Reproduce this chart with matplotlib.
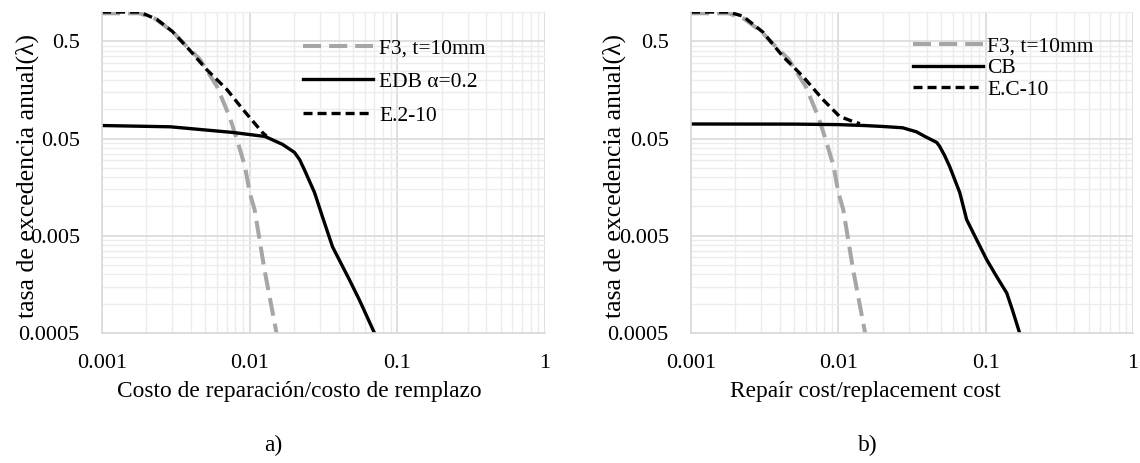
import matplotlib
matplotlib.use("Agg")
import matplotlib.pyplot as plt
import numpy as np

plt.rcParams['font.family'] = ['Liberation Serif', 'DejaVu Serif']
plt.rcParams['lines.scale_dashes'] = False

# Shared fragility curve (plate F3, t = 10 mm)
f3_x = [0.001, 0.0018, 0.0023, 0.003, 0.0036, 0.0046, 0.006, 0.0073, 0.0082,
        0.0093, 0.010, 0.0108, 0.0126, 0.0152, 0.017]
f3_y = [0.97, 0.97, 0.85, 0.63, 0.47, 0.326, 0.172, 0.084, 0.049,
        0.0257, 0.0139, 0.0093, 0.00223, 0.0005, 0.0003]

# Panel a: EDB alpha = 0.2 and combined E.2-10
edb_x = [0.001, 0.0029, 0.0077, 0.0127, 0.0167, 0.0201, 0.0218, 0.0235, 0.0275,
         0.0311, 0.0364, 0.0474, 0.0554, 0.070, 0.075]
edb_y = [0.068, 0.066, 0.0577, 0.0525, 0.0435, 0.036, 0.0303, 0.0238, 0.0139,
         0.00785, 0.00385, 0.00176, 0.00109, 0.0005, 0.0004]
e210_x = [0.001, 0.0018, 0.00235, 0.003, 0.0039, 0.0051, 0.0070, 0.0090, 0.0122, 0.013]
e210_y = [1.0, 1.0, 0.84, 0.63, 0.41, 0.257, 0.16, 0.0995, 0.0577, 0.053]

# Panel b: CB and combined E.C-10
cb_x = [0.001, 0.005, 0.01, 0.015, 0.02, 0.0273, 0.034, 0.0386, 0.0466, 0.0488,
        0.0527, 0.057, 0.0667, 0.0743, 0.0869, 0.1017, 0.119, 0.139, 0.152, 0.17, 0.18]
cb_y = [0.0705, 0.0703, 0.0695, 0.068, 0.0665, 0.0645, 0.0585, 0.0526, 0.0455, 0.0413,
        0.0333, 0.0257, 0.0139, 0.00732, 0.00455, 0.00283, 0.00189, 0.00129, 0.00086,
        0.0005, 0.0004]
ec10_x = [0.001, 0.0018, 0.00225, 0.00308, 0.0042, 0.00574, 0.00785, 0.0102, 0.0125, 0.014]
ec10_y = [1.0, 1.0, 0.906, 0.62, 0.35, 0.218, 0.126, 0.0843, 0.075, 0.071]

x_ticks = [0.001, 0.01, 0.1, 1]
x_ticklabels = ['0.001', '0.01', '0.1', '1']
y_ticks = [0.0005, 0.005, 0.05, 0.5]
y_ticklabels = ['0.0005', '0.005', '0.05', '0.5']

GRAY = '#a6a6a6'
MAJOR_GRID = '#d9d9d9'
MINOR_GRID = '#ececec'

fig = plt.figure(figsize=(11.4, 4.63), dpi=100)
W, H = 1140, 463


def make_axes(left_px, right_px):
    top_px, bottom_px = 12, 333
    return fig.add_axes([left_px / W, 1 - bottom_px / H,
                         (right_px - left_px) / W, (bottom_px - top_px) / H])


def style_axes(ax):
    ax.set_xscale('log')
    ax.set_yscale('log')
    ax.set_xlim(0.001, 1)
    ax.set_ylim(0.0005, 1.0)
    ax.set_xticks(x_ticks)
    ax.set_xticklabels(x_ticklabels)
    ax.set_yticks(y_ticks)
    ax.set_yticklabels(y_ticklabels)
    ax.set_xticks([m * t for t in x_ticks[:-1] for m in range(2, 10)], minor=True)
    ax.set_yticks([m * t for t in y_ticks for m in range(2, 10) if m * t <= 1.0],
                  minor=True)
    ax.xaxis.set_minor_formatter(matplotlib.ticker.NullFormatter())
    ax.yaxis.set_minor_formatter(matplotlib.ticker.NullFormatter())
    ax.tick_params(which='both', length=0, labelsize=16)
    ax.tick_params(axis='y', pad=16)
    ax.tick_params(axis='x', pad=15)
    ax.grid(which='minor', color=MINOR_GRID, lw=1.0)
    ax.grid(which='major', color=MAJOR_GRID, lw=1.2)
    ax.set_axisbelow(True)
    for side in ['top', 'right']:
        ax.spines[side].set_visible(False)
    for side in ['left', 'bottom']:
        ax.spines[side].set_color(MAJOR_GRID)
        ax.spines[side].set_linewidth(1.2)
    ax.set_ylabel('tasa de excedencia anual(λ)', fontsize=18.5)


# Panel a
ax1 = make_axes(102, 545)
style_axes(ax1)
ax1.plot(f3_x, f3_y, color=GRAY, lw=2.9, linestyle=(0, (13, 5.8)), label='F3, t=10mm')
ax1.plot(edb_x, edb_y, color='black', lw=2.4, label='EDB α=0.2')
ax1.plot(e210_x, e210_y, color='black', lw=2.4, linestyle=(0, (6.5, 3.6)), label='E.2-10')
ax1.yaxis.set_label_coords((39 - 102) / 443, 0.49)
ax1.legend(loc='upper left', bbox_to_anchor=(0.4537, 0.918), frameon=False,
           fontsize=15.5, handlelength=3.25, handletextpad=0.28,
           labelspacing=0.63, borderpad=0, borderaxespad=0)

# Panel b
ax2 = make_axes(691, 1133)
style_axes(ax2)
ax2.plot(f3_x, f3_y, color=GRAY, lw=2.9, linestyle=(0, (13, 5.8)), label='F3, t=10mm')
ax2.plot(cb_x, cb_y, color='black', lw=2.4, label='CB')
ax2.plot(ec10_x, ec10_y, color='black', lw=2.4, linestyle=(0, (6.5, 3.6)), label='E.C-10')
ax2.yaxis.set_label_coords((626 - 691) / 442, 0.49)
ax2.legend(loc='upper left', bbox_to_anchor=(0.502, 0.923), frameon=False,
           fontsize=15.5, handlelength=3.25, handletextpad=0.2,
           labelspacing=0.07, borderpad=0, borderaxespad=0)

# Axis titles and panel tags
fig.text(117 / W, 1 - 391 / H, 'Costo de reparación/costo de remplazo',
         fontsize=16.8, ha='left', va='center')
fig.text(730 / W, 1 - 391 / H, 'Repaír cost/replacement cost',
         fontsize=16.8, ha='left', va='center')
fig.text(273 / W, 1 - 445 / H, 'a)', fontsize=16.8, ha='center', va='center')
fig.text(868 / W, 1 - 445 / H, 'b)', fontsize=16.8, ha='center', va='center')

fig.savefig('out.png', dpi=100)
